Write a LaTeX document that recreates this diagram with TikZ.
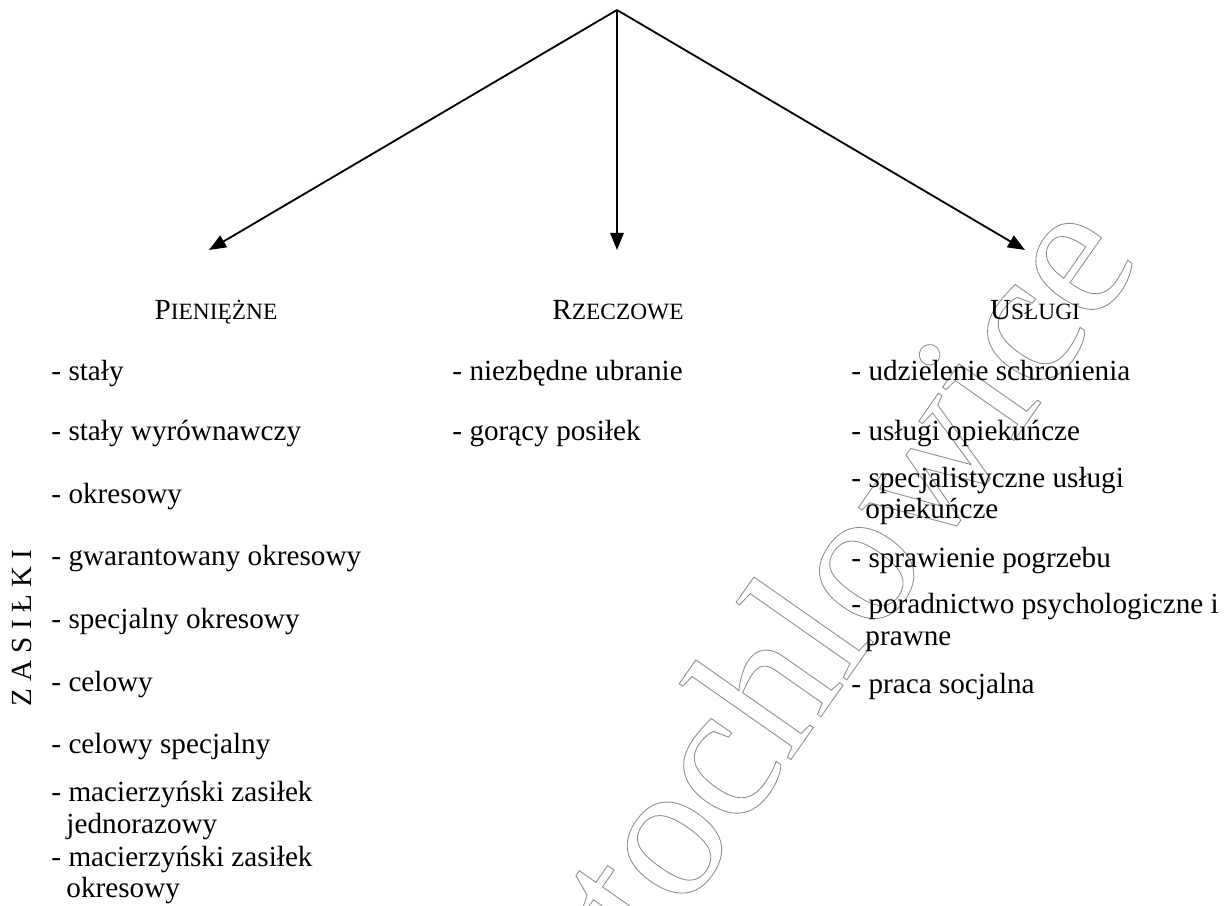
\documentclass[tikz,border=0pt]{standalone}
\usepackage{fontspec}
\setmainfont{Liberation Serif}
\usetikzlibrary{arrows.meta}
\newcommand{\smc}[1]{{\fontsize{9.6}{11}\selectfont #1}}
\newcommand{\outlinetext}[1]{\special{pdf:literal direct 0.55 G 0.35 w 1 Tr}#1\special{pdf:literal direct 0 Tr 0 G}}
\begin{document}
\begin{tikzpicture}[x=0.411pt,y=-0.411pt,
  item/.style={anchor=base west,inner sep=0pt,font=\fontsize{12}{14}\selectfont},
  head/.style={anchor=base,inner sep=0pt,font=\fontsize{12}{14}\selectfont},
  conn/.style={line width=0.75pt,-{Triangle[length=7pt,width=5.5pt]}},
  wmark/.style={rotate=55,anchor=base west,inner sep=0pt,font=\fontsize{80}{96}\selectfont}]
\useasboundingbox (0,0) rectangle (1229,906);
% watermark
\node[wmark] (wm) at (652,958) {\outlinetext{tochlowice}};
% arrows
\coordinate (apex) at (617,10);
\coordinate (tL) at (209,250);
\coordinate (tM) at (617,250);
\coordinate (tR) at (1025,250);
\draw[conn] (apex) -- (tL);
\draw[conn] (apex) -- (tM);
\draw[conn] (apex) -- (tR);
% headings
\node[head] (hP) at (216,320) {P\smc{IENIĘŻNE}};
\node[head] (hR) at (618,320) {R\smc{ZECZOWE}};
\node[head] (hU) at (1035,320) {U\smc{SŁUGI}};
% vertical label
\node[rotate=90,inner sep=0pt,font=\fontsize{12}{14}\selectfont] (zas) at (22,628) {Z A S I Ł K I};
% left column
\node[item] (p1) at (51,380) {- stały};
\node[item] (p2) at (51,441) {- stały wyrównawczy};
\node[item] (p3) at (51,503) {- okresowy};
\node[item] (p4) at (51,566) {- gwarantowany okresowy};
\node[item] (p5) at (51,628) {- specjalny okresowy};
\node[item] (p6) at (51,691) {- celowy};
\node[item] (p7) at (51,753) {- celowy specjalny};
\node[item] (p8) at (51,801) {- macierzyński zasiłek};
\node[item] (p8b) at (66,833) {jednorazowy};
\node[item] (p9) at (51,866) {- macierzyński zasiłek};
\node[item] (p9b) at (66,897) {okresowy};
% middle column
\node[item] (r1) at (452,380) {- niezbędne ubranie};
\node[item] (r2) at (452,441) {- gorący posiłek};
% right column
\node[item] (u1) at (851,380) {- udzielenie schronienia};
\node[item] (u2) at (851,441) {- usługi opiekuńcze};
\node[item] (u3) at (851,487) {- specjalistyczne usługi};
\node[item] (u3b) at (865,519) {opiekuńcze};
\node[item] (u4) at (851,567) {- sprawienie pogrzebu};
\node[item] (u5) at (851,613) {- poradnictwo psychologiczne i};
\node[item] (u5b) at (865,645) {prawne};
\node[item] (u6) at (851,693) {- praca socjalna};
\end{tikzpicture}
\end{document}
